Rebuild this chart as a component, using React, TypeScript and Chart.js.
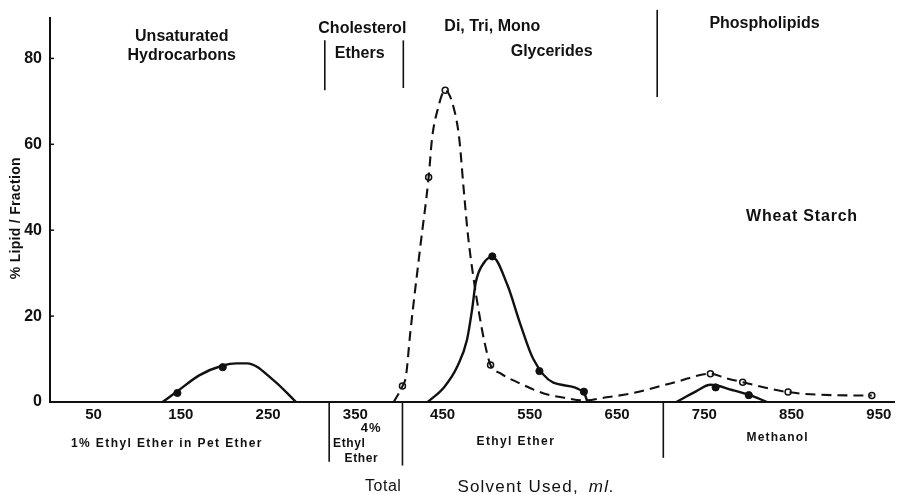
import React, { useEffect, useRef } from "react";
import { Chart, registerables } from "chart.js";

Chart.register(...registerables);

const FONT = '"Liberation Sans", Arial, Helvetica, sans-serif';
const INK = "#111111";

// ---- axis ticks & ranges ----
const xTickValues = [50, 150, 250, 350, 450, 550, 650, 750, 850, 950];
const yTickValues = [0, 20, 40, 60, 80];
const xMin = 0;
const xMax = 968;
const yMin = 0;
const yMax = 89.5;

// ---- solid curves, [ml, % lipid] ----
const solidCurveHydrocarbons = [
  [129, 0], [146, 2.5], [171, 6.2], [198, 8.5], [214, 9.0], [226, 9.0], [256, 5.1], [282, 0],
];
const solidCurveGlycerides = [
  [433, 0], [452, 3.5], [467, 8.3], [478, 14.5], [484, 21.8], [488, 27.8], [498, 32.6],
  [507, 33.8], [524, 27.4], [539, 18.2], [554, 10.0], [577, 4.5], [612, 2.2], [616, 0],
];
const solidCurvePhospholipids = [
  [718, 0], [740, 2.4], [757, 4.0], [782, 2.8], [801, 1.7], [822, 0],
];

// ---- dashed curve, [ml, % lipid] ----
const dashedCurve = [
  [394, 0], [404, 3.7], [408, 6.0], [413, 16.2], [424, 35.4], [434, 52.3], [438, 61.5],
  [444, 67.8], [453, 72.6], [463, 68.3], [469, 61.5], [474, 50.0], [479, 39.0], [485, 29.5],
  [492, 20.5], [498, 14.0], [505, 8.6], [516, 6.7], [539, 4.3], [566, 2.0], [592, 0.9],
  [612, 0.35], [638, 1.1], [664, 1.9], [718, 4.7], [757, 6.6], [774, 5.6], [794, 4.6],
  [846, 2.3], [896, 1.6], [942, 1.5],
];

// ---- measured points ----
const solidPointsMl = [146, 198, 507, 561, 612, 763, 801];
const solidPointsPct = [2.1, 8.1, 33.9, 7.2, 2.4, 3.4, 1.6];
const openPointsMl = [404, 434, 453, 505, 757, 794, 846, 942];
const openPointsPct = [3.7, 52.3, 72.6, 8.6, 6.6, 4.6, 2.3, 1.5];

// ---- text annotations (placed in data coordinates) ----
type Label = { text: string; x: number; y: number; size: number; weight: string; spacing?: number; align?: CanvasTextAlign };
const labels: Label[] = [
  { text: "Unsaturated", x: 151, y: 85.1, size: 16, weight: "bold" },
  { text: "Hydrocarbons", x: 151, y: 80.7, size: 16, weight: "bold" },
  { text: "Cholesterol", x: 358, y: 87.0, size: 16, weight: "bold" },
  { text: "Ethers", x: 355, y: 81.2, size: 16, weight: "bold" },
  { text: "Di, Tri, Mono", x: 452, y: 87.4, size: 16, weight: "bold", align: "left" },
  { text: "Glycerides", x: 575, y: 81.6, size: 16, weight: "bold" },
  { text: "Phospholipids", x: 819, y: 88.1, size: 16, weight: "bold" },
  { text: "Wheat Starch", x: 862, y: 43.2, size: 16, weight: "bold", spacing: 0.8 },
  { text: "1% Ethyl Ether in Pet Ether", x: 134, y: -9.7, size: 12, weight: "bold", spacing: 1.4 },
  { text: "4%", x: 368, y: -6.1, size: 13, weight: "bold", spacing: 1 },
  { text: "Ethyl", x: 343, y: -9.6, size: 12, weight: "bold", spacing: 0.6 },
  { text: "Ether", x: 357, y: -13.3, size: 12, weight: "bold", spacing: 0.6 },
  { text: "Ethyl Ether", x: 534, y: -9.3, size: 12, weight: "bold", spacing: 1.4 },
  { text: "Methanol", x: 834, y: -8.3, size: 12, weight: "bold", spacing: 1.2 },
  { text: "Total", x: 382, y: -19.7, size: 16, weight: "normal", spacing: 0.5 },
];
const dividers = [
  { x: 315, from: 84.2, to: 72.6 },
  { x: 405, from: 84.2, to: 73.1 },
  { x: 696, from: 91.3, to: 71.0 },
  { x: 320, from: 0, to: -13.9 },
  { x: 404, from: 0, to: -14.8 },
  { x: 703, from: 0, to: -13.0 },
];
const yTitle = "% Lipid / Fraction";
const xTitleMain = "Solvent Used,";
const xTitleUnit = "ml.";

const toXY = (pts: number[][]) => pts.map(([x, y]) => ({ x, y }));
const zipXY = (xs: number[], ys: number[]) => xs.map((x, i) => ({ x, y: ys[i] }));

const figurePlugin = {
  id: "figureText",
  afterDraw(chart: any) {
    const { ctx, chartArea } = chart;
    const xs = chart.scales.x;
    const ys = chart.scales.y;
    ctx.save();
    ctx.fillStyle = INK;
    ctx.strokeStyle = INK;

    // divider lines
    ctx.lineWidth = 1.6;
    dividers.forEach((d) => {
      const px = xs.getPixelForValue(d.x);
      ctx.beginPath();
      ctx.moveTo(px, ys.getPixelForValue(d.from));
      ctx.lineTo(px, ys.getPixelForValue(d.to));
      ctx.stroke();
    });

    // small inner tick marks on the y axis
    ctx.lineWidth = 1.5;
    yTickValues.forEach((v) => {
      if (v === 0) return;
      const py = ys.getPixelForValue(v);
      ctx.beginPath();
      ctx.moveTo(chartArea.left, py);
      ctx.lineTo(chartArea.left + 4, py);
      ctx.stroke();
    });

    // annotation texts
    ctx.textBaseline = "middle";
    labels.forEach((l) => {
      ctx.font = `${l.weight} ${l.size}px ${FONT}`;
      (ctx as any).letterSpacing = `${l.spacing || 0}px`;
      ctx.textAlign = l.align || "center";
      ctx.fillText(l.text, xs.getPixelForValue(l.x), ys.getPixelForValue(l.y));
    });

    // x title with italic unit
    (ctx as any).letterSpacing = "1.2px";
    ctx.textAlign = "left";
    ctx.font = `normal 17px ${FONT}`;
    const tx = xs.getPixelForValue(467);
    const ty = ys.getPixelForValue(-19.9);
    ctx.fillText(xTitleMain, tx, ty);
    const w = ctx.measureText(xTitleMain).width;
    ctx.font = `italic 17px ${FONT}`;
    ctx.fillText(xTitleUnit, tx + w + 10, ty);

    // y title, rotated
    (ctx as any).letterSpacing = "0.3px";
    ctx.font = `bold 14px ${FONT}`;
    ctx.textAlign = "center";
    ctx.translate(chartArea.left - 34, ys.getPixelForValue(42.8));
    ctx.rotate(-Math.PI / 2);
    ctx.fillText(yTitle, 0, 0);
    ctx.restore();
  },
};

export default function App() {
  const canvasRef = useRef<HTMLCanvasElement | null>(null);

  useEffect(() => {
    const canvas = canvasRef.current;
    if (!canvas) return;
    const curveBase = {
      type: "line" as const,
      borderColor: INK,
      pointRadius: 0,
      fill: false,
      cubicInterpolationMode: "monotone" as const,
      clip: false as any,
    };
    const chart = new Chart(canvas, {
      type: "scatter",
      data: {
        datasets: [
          { ...curveBase, data: toXY(solidCurveHydrocarbons), borderWidth: 2.4 },
          { ...curveBase, data: toXY(solidCurveGlycerides), borderWidth: 2.4 },
          { ...curveBase, data: toXY(solidCurvePhospholipids), borderWidth: 2.4 },
          { ...curveBase, data: toXY(dashedCurve), borderWidth: 2.1, borderDash: [10, 6] },
          {
            type: "scatter",
            data: zipXY(solidPointsMl, solidPointsPct),
            pointRadius: 3.6,
            pointBackgroundColor: INK,
            pointBorderColor: INK,
            pointBorderWidth: 1,
            showLine: false,
            clip: false as any,
          },
          {
            type: "scatter",
            data: zipXY(openPointsMl, openPointsPct),
            pointRadius: 3,
            pointBackgroundColor: "#ffffff",
            pointBorderColor: INK,
            pointBorderWidth: 1.5,
            showLine: false,
            clip: false as any,
          },
        ] as any,
      },
      options: {
        animation: false,
        responsive: false,
        maintainAspectRatio: false,
        events: [],
        layout: { padding: { top: 15, right: 0, bottom: 0, left: 0 } },
        plugins: {
          legend: { display: false },
          tooltip: { enabled: false },
          title: { display: false },
        },
        scales: {
          x: {
            type: "linear",
            min: xMin,
            max: xMax,
            grid: { display: false, drawTicks: false },
            border: { display: true, color: INK, width: 2 },
            ticks: {
              color: INK,
              padding: 4,
              font: { family: FONT, size: 15, weight: "bold" },
            },
            afterBuildTicks: (scale: any) => {
              scale.ticks = xTickValues.map((v) => ({ value: v }));
            },
            afterFit: (scale: any) => {
              scale.height = 93;
            },
          },
          y: {
            type: "linear",
            min: yMin,
            max: yMax,
            grid: { display: false, drawTicks: false },
            border: { display: true, color: INK, width: 2 },
            ticks: {
              color: INK,
              padding: 8,
              font: { family: FONT, size: 16, weight: "bold" },
            },
            afterBuildTicks: (scale: any) => {
              scale.ticks = yTickValues.map((v) => ({ value: v }));
            },
            afterFit: (scale: any) => {
              scale.width = 50;
            },
          },
        },
      } as any,
      plugins: [figurePlugin],
    });
    return () => chart.destroy();
  }, []);

  return (
    <div style={{ position: "absolute", left: 0, top: 0, width: 900, height: 495, background: "#ffffff" }}>
      <canvas ref={canvasRef} width={900} height={495} style={{ display: "block", width: 900, height: 495 }} />
    </div>
  );
}
